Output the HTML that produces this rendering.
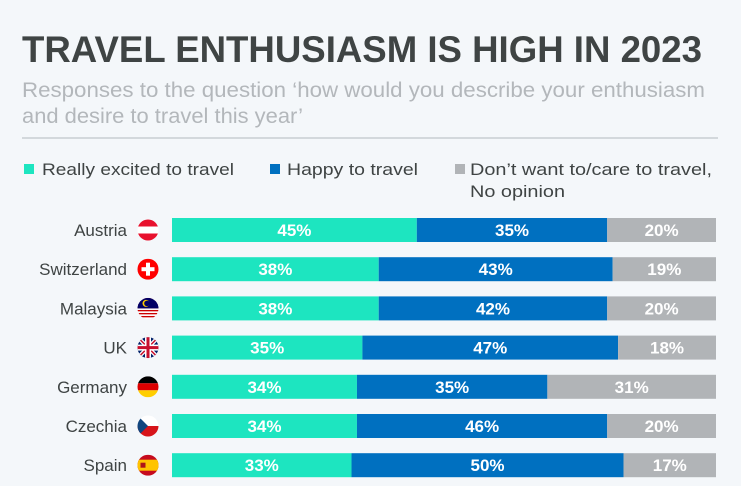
<!DOCTYPE html>
<html><head><meta charset="utf-8"><style>
html,body{margin:0;padding:0;background:#f4f7fa;}
svg{display:block;font-family:"Liberation Sans",sans-serif;}
</style></head><body>
<svg id="chart" width="741" height="486" viewBox="0 0 741 486" xmlns="http://www.w3.org/2000/svg">
<rect width="741" height="486" fill="#f4f7fa"/>
<text x="22" y="62" font-size="37" font-weight="bold" fill="#3f4444" textLength="680" lengthAdjust="spacingAndGlyphs" font-family="Liberation Sans Narrow, Liberation Sans, sans-serif">TRAVEL ENTHUSIASM IS HIGH IN 2023</text>
<text x="22" y="97" font-size="21" fill="#b3b7bb" textLength="683" lengthAdjust="spacingAndGlyphs">Responses to the question ‘how would you describe your enthusiasm</text>
<text x="22" y="123" font-size="21" fill="#b3b7bb" textLength="281" lengthAdjust="spacingAndGlyphs">and desire to travel this year’</text>
<line x1="22" y1="138" x2="718" y2="138" stroke="#c8cdd2" stroke-width="1.5"/>
<g>
<rect x="24" y="164" width="10" height="10" fill="#1de5c0"/>
<text x="42" y="175" font-size="17" fill="#3f4444" textLength="192" lengthAdjust="spacingAndGlyphs">Really excited to travel</text>
<rect x="270" y="164" width="10" height="10" fill="#0070c0"/>
<text x="287" y="175" font-size="17" fill="#3f4444" textLength="131" lengthAdjust="spacingAndGlyphs">Happy to travel</text>
<rect x="455" y="164" width="10" height="10" fill="#b1b4b7"/>
<text x="470" y="175" font-size="17" fill="#3f4444" textLength="242" lengthAdjust="spacingAndGlyphs">Don’t want to/care to travel,</text>
<text x="470" y="197" font-size="17" fill="#3f4444" textLength="95" lengthAdjust="spacingAndGlyphs">No opinion</text>
</g>
<g id="bars"></g>
</svg>
<script>
const countries = ["Austria","Switzerland","Malaysia","UK","Germany","Czechia","Spain"];
const excited = [45,38,38,35,34,34,33];
const happy = [35,43,42,47,35,46,50];
const noOpinion = [20,19,20,18,31,20,17];

const NS = "http://www.w3.org/2000/svg";
const g = document.getElementById('bars');
const x0 = 172, x1 = 716;
const xScale = v => x0 + (x1 - x0) * v / 100;
const yCenter = i => 230 + i * 39.2;
const barH = 24;
const colors = ["#1de5c0","#0070c0","#b1b4b7"];
const series = [excited, happy, noOpinion];
const sNames = ["excited","happy","no-opinion"];

function mk(tag, attrs){ const e=document.createElementNS(NS,tag); for(const k in attrs) e.setAttribute(k,attrs[k]); return e; }

function flag(i, cx, cy){
  const r=10.5, fg=mk('g',{});
  
  
  const id='clip'+i;
  const cp=mk('clipPath',{id:id}); cp.appendChild(mk('circle',{cx:cx,cy:cy,r:r})); fg.appendChild(cp);
  const inner=mk('g',{'clip-path':'url(#'+id+')'});
  const R=(x,y,w,h,f)=>inner.appendChild(mk('rect',{x:cx-r+x,y:cy-r+y,width:w,height:h,fill:f}));
  const n=countries[i];
  if(n==="Austria"){R(0,0,21,7,'#e8112d');R(0,7,21,7,'#fff');R(0,14,21,7,'#e8112d');}
  else if(n==="Switzerland"){R(0,0,21,21,'#ff0000');R(8.5,4,4,13,'#fff');R(4,8.5,13,4,'#fff');}
  else if(n==="Malaysia"){for(let k=0;k<7;k++)R(0,k*3,21,1.5,'#cc0001');for(let k=0;k<7;k++)R(0,k*3+1.5,21,1.5,'#fff');R(0,0,21,10.5,'#010066');inner.appendChild(mk('circle',{cx:cx-2,cy:cy-5,r:3.5,fill:'#fc0'}));inner.appendChild(mk('circle',{cx:cx-1,cy:cy-5,r:2.8,fill:'#010066'}));}
  else if(n==="UK"){R(0,0,21,21,'#012169');inner.appendChild(mk('path',{d:`M${cx-r} ${cy-r}L${cx+r} ${cy+r}M${cx+r} ${cy-r}L${cx-r} ${cy+r}`,stroke:'#fff','stroke-width':4}));inner.appendChild(mk('path',{d:`M${cx-r} ${cy-r}L${cx+r} ${cy+r}M${cx+r} ${cy-r}L${cx-r} ${cy+r}`,stroke:'#c8102e','stroke-width':1.5}));R(7.5,0,6,21,'#fff');R(0,7.5,21,6,'#fff');R(9,0,3,21,'#c8102e');R(0,9,21,3,'#c8102e');}
  else if(n==="Germany"){R(0,0,21,7,'#000');R(0,7,21,7,'#dd0000');R(0,14,21,7,'#ffce00');}
  else if(n==="Czechia"){R(0,0,21,10.5,'#fff');R(0,10.5,21,10.5,'#d7141a');inner.appendChild(mk('path',{d:`M${cx-r} ${cy-r}L${cx} ${cy}L${cx-r} ${cy+r}Z`,fill:'#11457e'}));}
  else if(n==="Spain"){R(0,0,21,21,'#c60b1e');R(0,5,21,11,'#ffc400');R(3,8,5,5,'#ad1519');}
  fg.appendChild(inner);
  return fg;
}

countries.forEach((c,i)=>{
  const cy=yCenter(i);
  const row=mk('g',{});
  
  
  const lab=mk('text',{x:127,y:cy+6,'font-size':17,fill:'#3f4444','text-anchor':'end'});
  
  
  lab.textContent=c; row.appendChild(lab);
  row.appendChild(flag(i,148,cy));
  let cum=0;
  series.forEach((s,k)=>{
    const v=s[i], xa=xScale(cum), xb=xScale(cum+v);
    const r=mk('rect',{x:xa,y:cy-barH/2,width:xb-xa,height:barH,fill:colors[k]});
    
    
    row.appendChild(r);
    const t=mk('text',{x:(xa+xb)/2,y:cy+6,'font-size':17,'font-weight':'bold',fill:'#fff','text-anchor':'middle'});
    
    
    t.textContent=v+'%'; row.appendChild(t);
    cum+=v;
  });
  g.appendChild(row);
});
</script>
</body></html>
